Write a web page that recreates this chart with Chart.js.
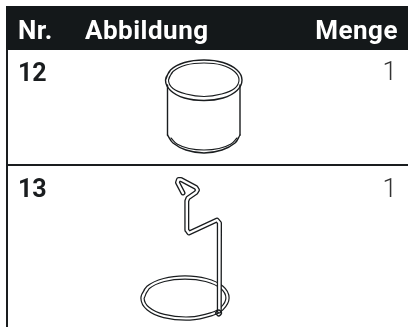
<!DOCTYPE html>
<html>
<head>
<meta charset="utf-8">
<style>
  html, body { margin: 0; padding: 0; background: #fff; }
  canvas { display: block; }
</style>
<script src="https://cdn.jsdelivr.net/npm/chart.js@4"></script>
</head>
<body>
<canvas id="partsChart" width="408" height="327"></canvas>
<script>
// table content
const headerLabels = ['Nr.', 'Abbildung', 'Menge'];
const rowNumbers = ['12', '13'];
const quantities = ['1', '1'];

// table rules (page units, y runs downward)
const headerBand = [[6, 28], [408, 28]];
const leftRule = [[7, 50], [7, 327]];
const rowRule = [[7, 165], [408, 165]];

// cup outline
const cupRimOuter = [[165.5, 80], [170.5, 70], [184.5, 62.5], [204, 60], [223, 62.5], [237, 70], [242, 80], [237, 90.5], [223, 98], [204, 100.5], [184.5, 98], [170.5, 90.5], [165.5, 80], [170.5, 70]];
const cupRimInner = [[168.5, 80], [173, 71.5], [186, 65], [204, 63], [221.5, 65], [234.5, 71.5], [239, 80], [234.5, 88.5], [221.5, 94], [204, 96.5], [186, 94], [173, 88.5], [168.5, 80], [173, 71.5]];
const cupLeftSide = [[167.5, 85], [167.5, 135]];
const cupRightSide = [[240, 85], [240, 135]];
const cupBase = [[167.5, 135], [173, 143], [186, 150], [204, 153], [222, 150], [235, 143], [240, 135]];
const cupBaseInner = [[171, 138], [177, 144], [189, 148.5], [204, 150], [219, 148.5], [231, 144], [237, 138]];

// stand: wire centre line and the ring it sits on
const standWire = [[183, 193], [177.5, 182.5], [178.5, 179.5], [181, 179.5], [196, 187.5], [197.5, 190], [196, 192.5], [188, 198], [186.8, 201], [186.8, 230], [189, 233], [217, 220], [219.5, 223], [219.3, 311]];
const standRing = [[142.5, 298], [148, 287.5], [164, 280], [185, 277.5], [206, 280], [222, 287.5], [227.5, 298], [222, 308.5], [212, 314], [190, 318.5], [164, 316], [148, 308.5], [142.5, 298], [148, 287.5]];
const standFoot = [[215.5, 313], [218.5, 310], [221.5, 313], [218.5, 316], [215.5, 313]];

const toXY = pts => pts.map(p => ({ x: p[0], y: p[1] }));

function stroke(pts, width, color, tension) {
  return {
    data: toXY(pts), showLine: true, pointRadius: 0,
    borderColor: color, borderWidth: width,
    tension, borderJoinStyle: 'round', borderCapStyle: 'round'
  };
}

const ink = '#1a1d1f';
const thin = 1.1;

// datasets draw last-to-first, so the list is front to back
const datasets = [
  stroke(standFoot, 1.5, ink, 0.4),
  stroke(standWire, 2.4, '#fff', 0),
  stroke(standWire, 5, ink, 0),
  stroke(standRing, 2, '#fff', 0.4),
  stroke(standRing, 4.4, ink, 0.4),
  stroke(cupRimInner, thin, ink, 0.4),
  stroke(cupRimOuter, thin + 0.3, ink, 0.4),
  stroke(cupBaseInner, thin, ink, 0.4),
  stroke(cupBase, thin + 0.3, ink, 0.4),
  stroke(cupLeftSide, thin + 0.3, ink, 0),
  stroke(cupRightSide, thin + 0.3, ink, 0),
  stroke(rowRule, 2, ink, 0),
  stroke(leftRule, 2, ink, 0),
  stroke(headerBand, 44, '#14181a', 0)
];
datasets[datasets.length - 1].borderCapStyle = 'butt';

// table text goes on top, placed through the chart's own scales
const tableText = {
  id: 'tableText',
  afterDatasetsDraw(chart) {
    const { ctx, scales: { x, y } } = chart;
    const put = (str, px, py, font, color, align, spacing) => {
      ctx.font = font;
      ctx.fillStyle = color;
      ctx.textAlign = align;
      ctx.textBaseline = 'alphabetic';
      ctx.letterSpacing = spacing;
      ctx.fillText(str, x.getPixelForValue(px), y.getPixelForValue(py));
    };
    ctx.save();
    const bold = 'bold 26px Roboto';
    put(headerLabels[0], 18, 39, bold, '#fff', 'left', '0.5px');
    put(headerLabels[1], 85, 39, bold, '#fff', 'left', '0.5px');
    put(headerLabels[2], 398, 39, bold, '#fff', 'right', '0.5px');
    put(rowNumbers[0], 18, 81, 'bold 25px Roboto', ink, 'left', '0px');
    put(rowNumbers[1], 18, 197, 'bold 25px Roboto', ink, 'left', '0px');
    put(quantities[0], 397, 80, '300 26px Roboto', '#333', 'right', '0px');
    put(quantities[1], 397, 197, '300 26px Roboto', '#333', 'right', '0px');
    ctx.restore();
  }
};

new Chart(document.getElementById('partsChart'), {
  type: 'scatter',
  data: { datasets },
  options: {
    responsive: false,
    animation: false,
    layout: { padding: 0 },
    plugins: { legend: { display: false }, tooltip: { enabled: false }, title: { display: false } },
    scales: {
      x: { type: 'linear', min: 0, max: 408, display: false },
      y: { type: 'linear', min: 0, max: 327, reverse: true, display: false }
    }
  },
  plugins: [tableText]
});
</script>
</body>
</html>
